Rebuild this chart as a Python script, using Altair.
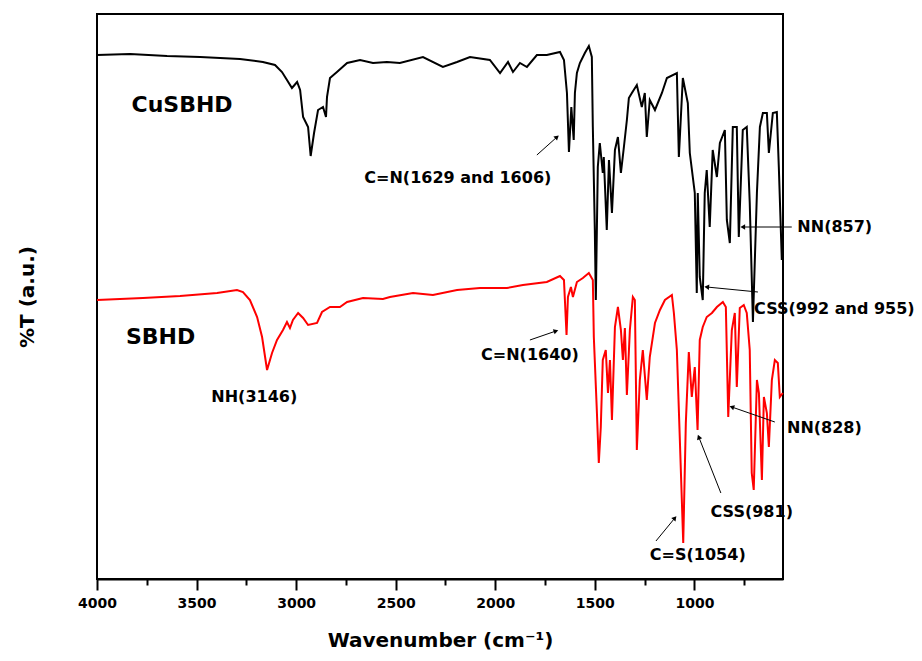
import math
import altair as alt
import pandas as pd

# ---- CuSBHD (black) spectrum: wavenumber (cm-1) and %T (a.u.) ----
black_w = [4000, 3834, 3648, 3482, 3282, 3167, 3106, 3071, 3046, 3021,
           2995, 2980, 2965, 2940, 2927, 2910, 2890, 2865, 2850, 2845,
           2830, 2795, 2744, 2679, 2614, 2544, 2479, 2363, 2263, 2192,
           2127, 2027, 1976, 1936, 1911, 1876, 1841, 1791, 1741, 1675,
           1655, 1640, 1630, 1618, 1606, 1600, 1590, 1575, 1550, 1530,
           1515, 1510, 1500, 1495, 1485, 1475, 1460, 1455, 1440, 1429,
           1414, 1399, 1384, 1369, 1354, 1339, 1329, 1314, 1289, 1264,
           1249, 1239, 1224, 1198, 1163, 1138, 1088, 1078, 1058, 1033,
           1023, 998, 988, 983, 973, 958, 948, 938, 923, 908,
           887, 872, 847, 837, 822, 807, 787, 777, 757, 737,
           722, 706, 686, 671, 656, 636, 626, 606, 586, 576,
           561]
black_t = [524, 525, 523, 522, 520, 517, 514, 507, 499, 491,
           497, 489, 462, 452, 423, 446, 469, 472, 462, 482,
           501, 507, 516, 519, 516, 517, 516, 522, 512, 517,
           522, 519, 506, 517, 507, 516, 512, 524, 524, 527,
           519, 486, 427, 472, 439, 486, 506, 516, 526, 533,
           522, 452, 349, 279, 412, 436, 406, 422, 349, 419,
           366, 429, 442, 406, 432, 459, 481, 486, 494, 472,
           486, 442, 479, 469, 486, 501, 506, 422, 501, 476,
           426, 386, 286, 386, 302, 279, 386, 409, 352, 429,
           402, 436, 449, 359, 336, 452, 452, 342, 449, 452,
           376, 257, 386, 452, 466, 466, 426, 466, 467, 412,
           319]

# ---- SBHD (red) spectrum ----
red_w = [4000, 3769, 3583, 3397, 3297, 3267, 3232, 3196, 3171, 3146,
         3121, 3096, 3066, 3046, 3031, 3016, 2990, 2965, 2940, 2895,
         2870, 2830, 2780, 2744, 2664, 2564, 2529, 2413, 2313, 2192,
         2077, 1941, 1861, 1741, 1675, 1655, 1642, 1635, 1620, 1610,
         1590, 1560, 1530, 1510, 1505, 1490, 1480, 1470, 1460, 1445,
         1434, 1424, 1414, 1399, 1384, 1369, 1359, 1349, 1339, 1324,
         1309, 1299, 1289, 1274, 1259, 1239, 1224, 1198, 1173, 1148,
         1113, 1103, 1088, 1073, 1056, 1043, 1028, 1013, 998, 984,
         973, 958, 938, 912, 887, 857, 842, 830, 812, 797,
         787, 772, 752, 737, 722, 712, 702, 686, 676, 661,
         651, 636, 626, 611, 596, 581, 571, 556]
red_t = [279, 281, 283, 286, 289, 287, 279, 262, 242, 209,
         226, 239, 249, 257, 251, 259, 266, 261, 254, 256,
         267, 272, 272, 277, 281, 280, 282, 286, 284, 289,
         291, 291, 294, 297, 303, 299, 244, 282, 292, 282,
         297, 301, 306, 299, 242, 169, 116, 152, 219, 229,
         186, 219, 159, 252, 272, 249, 219, 251, 184, 249,
         282, 279, 129, 199, 229, 179, 222, 256, 269, 279,
         284, 266, 229, 139, 36, 156, 227, 182, 212, 149,
         239, 252, 262, 266, 272, 277, 272, 162, 249, 266,
         192, 271, 274, 266, 229, 106, 89, 199, 186, 99,
         182, 166, 132, 199, 219, 216, 182, 186]

# ---- annotations ----
ann_text = ["CuSBHD", "SBHD", "C=N(1629 and 1606)", "C=N(1640)", "NH(3146)",
            "C=S(1054)", "CSS(981)", "NN(828)", "NN(857)", "CSS(992 and 955)"]
ann_w = [3573, 3681, 2188, 1826, 3210, 983, 712, 347, 295, 297]
ann_t = [474, 242, 401, 224, 182, 24, 67, 151, 352, 270]
ann_size = [22, 22, 16, 16, 16, 16, 16, 16, 16, 16]

# arrows: tail -> head
arr_w1 = [1791, 1826, 1193, 867, 596, 511, 681]
arr_t1 = [424, 239, 38, 86, 157, 352, 287]
arr_w2 = [1690, 1695, 1098, 978, 812, 757, 938]
arr_t2 = [442, 248, 61, 142, 172, 352, 292]

x_ticks = [4000, 3750, 3500, 3250, 3000, 2750, 2500, 2250, 2000, 1750,
           1500, 1250, 1000, 750]

W_DOMAIN = [4000, 555]
T_DOMAIN = [0, 565]
PLOT_W, PLOT_H = 686, 565

rows = []
for i, (w, t) in enumerate(zip(black_w, black_t)):
    rows.append({"w": w, "t": t, "s": "CuSBHD", "i": i})
for i, (w, t) in enumerate(zip(red_w, red_t)):
    rows.append({"w": w, "t": t, "s": "SBHD", "i": i})
spec = pd.DataFrame(rows)

ann = pd.DataFrame({"label": ann_text, "w": ann_w, "t": ann_t, "fs": ann_size})

px_per_w = PLOT_W / (W_DOMAIN[0] - W_DOMAIN[1])
px_per_t = PLOT_H / (T_DOMAIN[1] - T_DOMAIN[0])
angs = []
for a, b, c, d in zip(arr_w1, arr_t1, arr_w2, arr_t2):
    dx = (a - c) * px_per_w
    dy = -(d - b) * px_per_t
    angs.append(math.degrees(math.atan2(dx, -dy)) % 360)
arr = pd.DataFrame({"w1": arr_w1, "t1": arr_t1, "w2": arr_w2, "t2": arr_t2, "ang": angs})

FONT = "DejaVu Sans"

xscale = alt.Scale(domain=W_DOMAIN, nice=False, zero=False)
yscale = alt.Scale(domain=T_DOMAIN, nice=False, zero=False)

x_axis = alt.Axis(
    title="Wavenumber (cm⁻¹)",
    values=x_ticks,
    format="d",
    labelExpr="datum.value % 500 === 0 ? datum.label : ''",
    tickSize={"condition": {"test": "datum.value % 500 === 0", "value": 11}, "value": 6},
    tickWidth=2,
    tickColor="black",
    domainColor="black",
    domainWidth=2,
    grid=False,
    labelFont=FONT,
    labelFontWeight="bold",
    labelFontSize=14,
    labelColor="black",
    labelPadding=6,
    labelFlush=False,
    titleFont=FONT,
    titleFontWeight="bold",
    titleFontSize=20,
    titleColor="black",
    titlePadding=20,
)
y_axis = alt.Axis(
    title="%T (a.u.)",
    labels=False,
    ticks=False,
    domain=False,
    grid=False,
    titleFont=FONT,
    titleFontWeight="bold",
    titleFontSize=20,
    titleColor="black",
    titlePadding=60,
)

lines = alt.Chart(spec).mark_line(strokeWidth=2, strokeJoin="miter").encode(
    x=alt.X("w:Q", scale=xscale, axis=x_axis),
    y=alt.Y("t:Q", scale=yscale, axis=y_axis),
    color=alt.Color("s:N", scale=alt.Scale(domain=["CuSBHD", "SBHD"], range=["#000000", "#ff0000"]), legend=None),
    order=alt.Order("i:Q"),
    detail="s:N",
)

rules = alt.Chart(arr).mark_rule(color="black", strokeWidth=1).encode(
    x=alt.X("w1:Q", scale=xscale),
    x2="w2:Q",
    y=alt.Y("t1:Q", scale=yscale),
    y2="t2:Q",
)

heads = alt.Chart(arr).mark_point(shape="triangle-up", filled=True, color="black", size=30, opacity=1).encode(
    x=alt.X("w2:Q", scale=xscale),
    y=alt.Y("t2:Q", scale=yscale),
    angle=alt.Angle("ang:Q", scale=None),
)

texts = alt.Chart(ann).mark_text(font=FONT, fontWeight="bold", color="black", align="center", baseline="middle").encode(
    x=alt.X("w:Q", scale=xscale),
    y=alt.Y("t:Q", scale=yscale),
    text="label:N",
    size=alt.Size("fs:Q", scale=None),
)

chart = alt.layer(lines, rules, heads, texts).properties(
    width=PLOT_W,
    height=PLOT_H,
    autosize=alt.AutoSizeParams(type="none"),
    padding={"left": 97, "top": 14, "right": 139, "bottom": 82},
    background="white",
).configure_view(stroke="black", strokeWidth=2)

chart.save("out.html", embed_options={"renderer": "svg", "actions": False})
